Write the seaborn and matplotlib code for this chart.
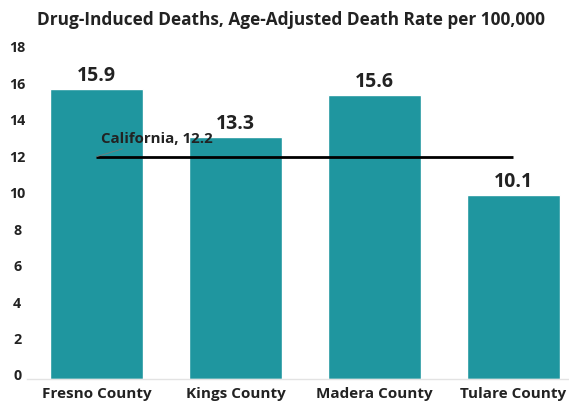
import matplotlib
matplotlib.use("Agg")
import matplotlib.pyplot as plt
import matplotlib.transforms as mtransforms
import pandas as pd
import seaborn as sns

counties = ["Fresno County", "Kings County", "Madera County", "Tulare County"]
rates = [15.9, 13.3, 15.6, 10.1]
state_label = "California"
state_rate = 12.2
y_ticks = [0, 2, 4, 6, 8, 10, 12, 14, 16, 18]

bar_color = "#1f969f"
text_color = "#222222"

sns.set_theme(style="white")
plt.rcParams["font.family"] = ["Open Sans", "DejaVu Sans"]
plt.rcParams["font.weight"] = "bold"

df = pd.DataFrame({"county": counties, "rate": rates})

fig = plt.figure(figsize=(5.69, 4.05), dpi=100)
ax = fig.add_axes([27 / 569, 26 / 405, 542 / 569, 328 / 405])

sns.barplot(data=df, x="county", y="rate", color=bar_color, saturation=1,
            width=0.67, ax=ax)

for i, v in enumerate(rates):
    ax.annotate(f"{v:.1f}", (i, v), xytext=(0, 2), textcoords="offset points",
                ha="center", va="bottom", fontsize=14, fontweight="bold",
                color=text_color)

# state reference line from first to last category center
ax.plot([0, len(counties) - 1], [state_rate, state_rate], color="black", lw=2,
        solid_capstyle="butt")
ax.annotate(f"{state_label}, {state_rate}", xy=(0, state_rate),
            xytext=(3, 8), textcoords="offset points", ha="left", va="bottom",
            fontsize=10.8, fontweight="bold", color=text_color,
            arrowprops=dict(arrowstyle="-", color="#777777", lw=0.6,
                            shrinkA=0, shrinkB=0))

ax.set_xlim(-0.5, 3.4)
ax.set_ylim(0, 18)
ax.set_yticks(y_ticks)
ax.set_xlabel("")
ax.set_ylabel("")
ax.tick_params(axis="y", length=0, pad=7, labelsize=10.3, labelcolor=text_color)
ax.tick_params(axis="x", length=0, pad=5.5, labelsize=11, labelcolor=text_color)
shift = mtransforms.ScaledTranslation(0, 4 / 100, fig.dpi_scale_trans)
for lab in ax.get_yticklabels():
    lab.set_horizontalalignment("center")
    lab.set_fontweight("bold")
    lab.set_transform(lab.get_transform() + shift)
for lab in ax.get_xticklabels():
    lab.set_fontweight("bold")

for side in ["top", "right", "left"]:
    ax.spines[side].set_visible(False)
ax.spines["bottom"].set_color("#e3e3e3")
ax.spines["bottom"].set_linewidth(1)

fig.text(291 / 569, 1 - 20 / 405, "Drug-Induced Deaths, Age-Adjusted Death Rate per 100,000",
         ha="center", va="center", fontsize=12.4, fontweight="bold", color=text_color)

fig.savefig("out.png", dpi=100)
